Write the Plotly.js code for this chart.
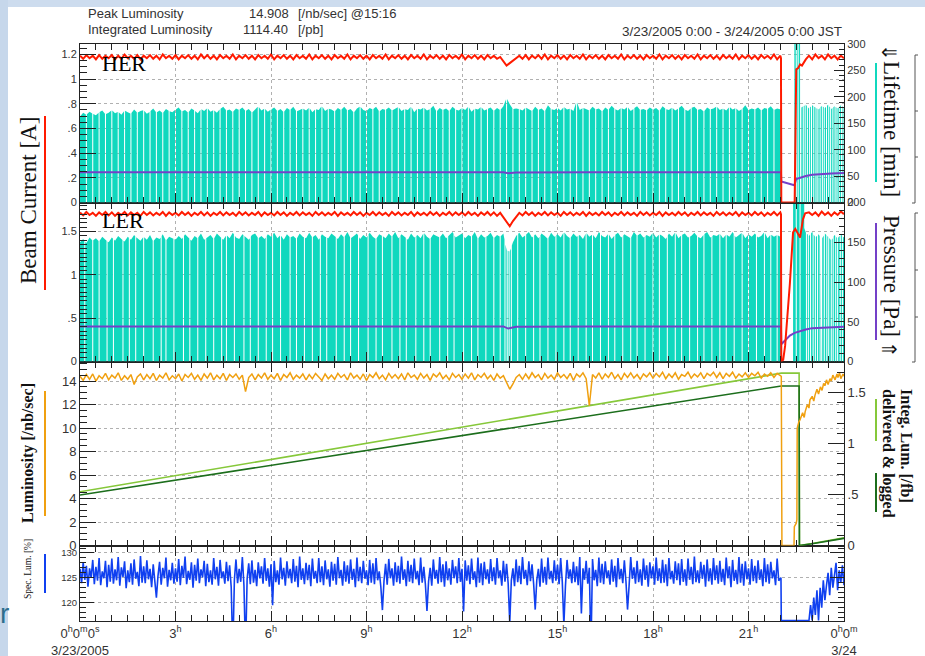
<!DOCTYPE html>
<html>
<head>
<meta charset="utf-8">
<script src="https://cdn.plot.ly/plotly-3.0.1.min.js"></script>
<style>
  html, body { margin: 0; padding: 0; background: #fff; }
  #chart { width: 925px; height: 656px; }
</style>
</head>
<body>
<div id="chart"></div>
<script>
// ---------------------------------------------------------------
// KEKB daily summary, 3/23/2005 (hours 0..24, JST)
// Regular series are sampled every 0.1 h (specific luminosity every
// 0.05 h) up to 22.0 h; the abort / refill period after 22 h is
// given point by point.
// ---------------------------------------------------------------

// HER beam current [A]
const herCurrent = [
  1.19,1.165,1.195,1.17,1.19,1.16,1.195,1.165,1.19,1.17,1.195,1.16,1.19,1.165,1.2,1.17,1.19,1.165,1.195,1.16,
  1.19,1.17,1.195,1.165,1.19,1.16,1.2,1.17,1.19,1.165,1.195,1.16,1.19,1.17,1.195,1.165,1.19,1.16,1.2,1.17,
  1.195,1.165,1.19,1.16,1.195,1.17,1.19,1.165,1.2,1.16,1.19,1.17,1.195,1.165,1.19,1.16,1.195,1.17,1.19,1.165,
  1.2,1.16,1.19,1.17,1.195,1.165,1.19,1.16,1.195,1.17,1.19,1.165,1.2,1.16,1.19,1.17,1.195,1.165,1.19,1.16,
  1.195,1.17,1.19,1.165,1.2,1.16,1.19,1.17,1.195,1.165,1.19,1.16,1.195,1.17,1.19,1.165,1.2,1.16,1.19,1.17,
  1.195,1.165,1.19,1.16,1.195,1.17,1.19,1.165,1.2,1.16,1.19,1.17,1.195,1.165,1.19,1.16,1.195,1.17,1.19,1.165,
  1.2,1.16,1.19,1.17,1.195,1.165,1.19,1.16,1.195,1.17,1.19,1.165,1.18,1.14,1.11,1.13,1.15,1.17,1.19,1.165,
  1.195,1.16,1.19,1.17,1.195,1.165,1.2,1.16,1.19,1.17,1.195,1.165,1.19,1.16,1.195,1.17,1.19,1.165,1.2,1.16,
  1.19,1.17,1.195,1.165,1.19,1.16,1.195,1.17,1.19,1.165,1.2,1.16,1.19,1.17,1.195,1.165,1.19,1.16,1.195,1.17,
  1.19,1.165,1.2,1.16,1.19,1.17,1.195,1.165,1.19,1.16,1.195,1.17,1.19,1.165,1.2,1.16,1.19,1.17,1.195,1.165,
  1.19,1.16,1.195,1.17,1.19,1.165,1.2,1.16,1.19,1.17,1.195,1.165,1.19,1.16,1.195,1.17,1.19,1.165,1.2,1.16,
  1.19
];
const herCurrentTailT = [22.02,22.03,22.45,22.5,22.56,22.62,22.68,22.74,22.8,22.9,23.0,23.1,23.2,23.3,23.4,23.5,23.6,23.7,23.8,23.9,24.0];
const herCurrentTailV = [1.17,0,0,1.08,1.09,1.12,1.11,1.14,1.16,1.19,1.16,1.2,1.17,1.19,1.16,1.2,1.17,1.19,1.16,1.19,1.17];

// LER beam current [A]
const lerCurrent = [
  1.72,1.685,1.725,1.69,1.715,1.68,1.72,1.69,1.725,1.685,1.72,1.68,1.715,1.69,1.725,1.685,1.72,1.69,1.715,1.68,
  1.725,1.69,1.72,1.685,1.715,1.69,1.725,1.68,1.72,1.69,1.715,1.685,1.725,1.69,1.72,1.68,1.715,1.69,1.725,1.685,
  1.72,1.68,1.715,1.69,1.725,1.685,1.72,1.69,1.715,1.68,1.725,1.69,1.72,1.685,1.715,1.69,1.725,1.68,1.72,1.69,
  1.715,1.685,1.725,1.69,1.72,1.68,1.715,1.69,1.725,1.685,1.72,1.69,1.715,1.68,1.725,1.69,1.72,1.685,1.715,1.69,
  1.725,1.68,1.72,1.69,1.715,1.685,1.725,1.69,1.72,1.68,1.715,1.69,1.725,1.685,1.72,1.69,1.715,1.68,1.725,1.69,
  1.72,1.685,1.715,1.69,1.725,1.68,1.72,1.69,1.715,1.685,1.725,1.69,1.72,1.68,1.715,1.69,1.725,1.685,1.72,1.69,
  1.72,1.685,1.725,1.69,1.715,1.68,1.72,1.69,1.725,1.685,1.72,1.68,1.715,1.66,1.6,1.56,1.62,1.67,1.715,1.685,
  1.725,1.69,1.72,1.68,1.715,1.69,1.725,1.685,1.72,1.69,1.715,1.68,1.725,1.69,1.72,1.685,1.715,1.69,1.725,1.68,
  1.72,1.69,1.715,1.685,1.725,1.69,1.72,1.68,1.715,1.69,1.725,1.685,1.72,1.69,1.715,1.68,1.725,1.69,1.72,1.685,
  1.715,1.69,1.725,1.68,1.72,1.69,1.715,1.685,1.725,1.69,1.72,1.68,1.715,1.69,1.725,1.685,1.72,1.69,1.715,1.68,
  1.725,1.69,1.72,1.685,1.715,1.69,1.725,1.68,1.72,1.69,1.715,1.685,1.725,1.69,1.72,1.68,1.715,1.69,1.725,1.685,
  1.72
];
const lerCurrentTailT = [22.02,22.03,22.09,22.15,22.3,22.4,22.47,22.55,22.62,22.71,22.78,22.9,23.0,23.1,23.2,23.3,23.4,23.5,23.6,23.7,23.8,23.9,24.0];
const lerCurrentTailV = [1.7,0,0.02,0.18,0.9,1.49,1.53,1.48,1.43,1.64,1.71,1.72,1.69,1.72,1.68,1.73,1.69,1.72,1.68,1.72,1.69,1.73,1.7];

// Vacuum pressure traces (drawn on the current scale)
const herPressT = [0,3,6,9,12,13.3,13.45,13.7,16,19,22.02,22.03,22.2,22.44,22.5,22.6,22.8,23.0,23.3,23.6,24.0];
const herPressV = [0.245,0.246,0.245,0.246,0.245,0.245,0.238,0.244,0.245,0.246,0.245,0.17,0.16,0.14,0.19,0.2,0.215,0.225,0.232,0.236,0.24];
const lerPressT = [0,3,6,9,12,13.3,13.45,13.7,16,19,22.02,22.03,22.15,22.3,22.45,22.6,22.8,23.0,23.4,23.8,24.0];
const lerPressV = [0.405,0.405,0.404,0.405,0.405,0.405,0.38,0.4,0.404,0.405,0.405,0.2,0.24,0.3,0.33,0.35,0.37,0.385,0.395,0.4,0.402];

// Beam lifetime [min], peak readings every 0.1 h (0..22 h).
// HER is topped up at every second sample; LER at the listed times.
const herLifeTop = [
  163,170,166,172,168,165,171,174,167,170,175,169,172,166,174,171,168,176,170,173,
  175,168,172,178,170,174,169,177,173,171,176,180,172,175,170,178,174,169,177,173,
  179,172,175,170,177,181,174,176,171,178,175,180,173,177,170,176,182,174,178,172,
  176,180,173,177,171,179,175,181,172,176,178,174,180,171,177,175,183,173,178,176,
  172,179,175,181,174,177,170,178,182,175,173,179,176,181,172,177,175,180,174,178,
  181,173,177,175,182,171,178,176,180,174,177,183,172,179,175,178,173,181,176,174,
  179,175,182,172,178,176,181,174,177,180,173,179,175,182,198,186,177,178,177,174,
  180,176,173,181,175,178,172,184,177,175,179,174,181,176,178,173,192,175,179,177,
  174,181,176,178,172,180,175,183,177,174,179,176,181,173,178,182,175,177,174,180,
  176,179,173,182,177,175,180,174,178,183,176,173,179,181,175,177,172,180,176,178,
  182,175,178,174,181,176,179,173,177,184,175,178,176,180,174,179,177,182,175,178,
  176
];
const herLifeTailT = [22.02,22.021,22.44,22.441,22.62,22.621,22.66,22.661,22.8,22.9,23.0,23.1,23.2,23.3,23.4,23.5,23.6,23.7,23.8,23.9,24.0];
const herLifeTailV = [176,0,0,330,330,0,0,180,185,178,184,180,176,183,179,185,177,182,178,184,180];
const herLifeTailGaps = [22.5,22.56,22.72,22.78,22.85,22.92,22.98,23.05,23.12,23.18,23.25,23.32,23.38,23.45,23.52,23.58,23.65,23.72,23.78,23.85,23.92,23.97];

const lerLifeTop = [
  150,154,149,156,152,155,151,157,153,150,156,152,158,154,151,157,153,159,155,152,
  157,153,159,151,156,154,160,152,157,155,153,158,154,160,156,152,158,155,161,153,
  156,159,154,161,157,153,159,155,162,156,154,160,157,153,159,161,155,158,154,160,
  157,162,155,159,153,160,156,158,154,161,157,155,162,156,159,153,160,157,155,161,
  158,154,160,156,163,155,158,161,154,159,156,162,157,154,160,158,155,161,157,163,
  155,160,157,153,161,156,159,155,162,157,154,160,158,156,161,155,159,163,156,158,
  161,155,159,157,163,154,160,156,158,162,155,159,157,161,140,138,150,158,162,156,
  159,163,156,160,155,161,158,154,162,157,160,156,163,158,155,161,157,159,154,162,
  157,160,155,163,158,156,161,154,159,162,156,160,157,155,163,158,161,156,159,157,
  162,156,160,158,154,161,157,163,155,159,161,156,158,162,157,155,160,163,156,159,
  158,161,155,160,157,163,156,159,162,155,160,157,161,156,158,163,155,160,157,159,
  157
];
const lerLifeGaps = [
  0.15,0.4,0.6,0.85,1.05,1.35,1.55,1.75,2.0,2.3,2.55,2.7,2.95,3.25,3.45,3.7,3.95,4.2,4.45,4.6,
  4.85,5.15,5.35,5.6,5.85,6.05,6.3,6.6,6.8,7.05,7.3,7.55,7.75,8.05,8.3,8.5,8.75,9.05,9.3,9.5,
  9.8,10.05,10.25,10.55,10.8,11.0,11.3,11.55,11.75,12.05,12.3,12.5,12.75,13.0,13.2,13.35,13.42,13.48,13.55,13.75,
  14.0,14.25,14.45,14.7,14.95,15.2,15.4,15.65,15.9,16.1,16.35,16.6,16.8,17.05,17.3,17.5,17.75,18.0,18.2,18.45,
  18.7,18.9,19.15,19.4,19.6,19.85,20.1,20.3,20.55,20.8,21.0,21.25,21.5,21.7,21.9
];
const lerLifeTailT = [22.02,22.021,22.4,22.401,22.75,22.751,22.8,22.9,23.0,23.1,23.2,23.3,23.4,23.5,23.6,23.7,23.8,23.9,24.0];
const lerLifeTailV = [157,0,0,215,215,168,162,158,163,156,160,154,161,157,152,159,155,160,156];
const lerLifeTailGaps = [22.5,22.62,22.82,22.88,22.95,23.03,23.1,23.17,23.25,23.3,23.38,23.46,23.52,23.6,23.66,23.74,23.8,23.88,23.95];

// Luminosity [/nb/sec]
const luminosity = [
  14.4,14.05,14.55,14.15,14.6,14.0,14.45,14.2,14.65,14.1,14.5,14.25,14.7,14.05,14.45,14.15,14.55,13.7,14.35,14.6,
  14.1,14.55,14.2,14.65,14.05,14.5,14.25,14.7,14.1,14.45,14.2,14.6,14.0,14.55,14.3,14.65,14.15,14.5,14.05,14.6,
  14.25,14.7,14.1,14.5,14.2,14.65,14.05,14.55,14.3,14.6,14.15,14.5,13.1,14.3,14.6,14.1,14.55,14.25,14.7,14.15,
  14.5,14.2,14.65,14.05,14.55,14.3,14.7,14.15,14.5,14.25,14.6,14.1,14.55,14.2,14.65,14.35,14.05,14.6,14.2,14.5,
  14.15,14.65,14.3,14.55,14.1,14.7,14.25,14.5,14.15,14.6,14.05,14.55,14.3,14.7,14.2,14.5,14.1,14.65,14.25,14.55,
  14.2,14.6,14.1,14.7,14.3,14.5,14.15,14.65,14.25,14.55,14.05,14.6,14.35,14.7,14.2,14.5,14.1,14.65,14.3,14.55,
  14.15,14.6,14.25,14.7,14.1,14.55,14.3,14.65,14.2,14.5,14.05,14.6,14.25,14.45,13.8,13.3,13.75,14.3,14.55,14.15,
  14.6,14.2,14.7,14.3,14.55,14.1,14.65,14.25,14.5,14.15,14.7,14.3,14.55,14.2,14.65,14.05,14.6,14.35,14.7,14.2,
  11.9,14.55,14.25,14.7,14.15,14.6,14.3,14.75,14.2,14.55,14.1,14.65,14.3,14.7,14.25,14.55,14.15,14.6,14.35,14.7,
  14.25,14.65,14.35,14.75,14.2,14.6,14.3,14.7,14.15,14.55,14.4,14.75,14.25,14.6,14.35,14.7,14.2,14.65,14.45,14.75,
  14.3,14.7,14.2,14.65,14.4,14.75,14.25,14.6,14.35,14.7,14.3,14.65,14.45,14.75,14.25,14.6,14.4,14.7,14.3,14.65,
  14.45
];
const lumiTailT = [22.03,22.05,22.43,22.44,22.5,22.52,22.53,22.58,22.62,22.7,22.75,22.78,22.85,22.9,22.93,23.0,23.05,23.09,23.15,23.2,23.26,23.31,23.36,23.4,23.45,23.5,23.56,23.6,23.65,23.72,23.78,23.81,23.86,23.9,23.97,24.0];
const lumiTailV = [14.4,0,0,1.6,1.9,2.2,10.0,10.5,10.7,11.3,10.9,11.4,12.0,11.7,12.4,12.7,12.3,12.8,13.3,12.9,13.5,13.2,13.8,13.6,14.1,13.7,14.2,14.0,14.5,14.1,14.6,14.3,14.7,14.2,14.6,14.4];

// Integrated luminosity [/fb], delivered and logged
const integT = [0,2,4,6,8,10,12,14,16,18,20,22.03,22.59,22.6,23.0,23.5,24.0];
const integDelivered = [0.527,0.633,0.738,0.844,0.95,1.055,1.161,1.267,1.372,1.478,1.584,1.69,1.69,0,0.02,0.046,0.075];
const integLogged = [0.495,0.592,0.689,0.786,0.883,0.98,1.077,1.174,1.271,1.368,1.465,1.564,1.564,0,0.018,0.042,0.07];

// Specific luminosity [%], one row per hour (0.05 h samples)
const specLumi = [
  126.8,123.9,128.1,124.6,127.4,123.2,126.9,125.0,128.6,123.7,127.2,124.4,129.0,123.5,126.3,124.9,128.4,123.1,127.6,124.2,
  128.9,123.8,126.7,124.5,129.2,123.4,127.1,125.2,128.3,122.9,126.5,124.1,127.9,123.6,128.7,124.8,126.2,123.3,129.4,124.0,
  127.3,123.9,128.5,124.7,126.8,123.1,127.7,124.3,121.0,125.4,128.2,123.6,127.0,124.9,129.1,123.2,126.6,124.5,128.0,123.8,
  126.9,124.2,128.8,123.5,127.4,125.0,129.3,123.7,126.4,124.6,128.1,123.0,127.6,124.4,128.9,123.9,126.7,125.1,128.4,123.3,
  127.8,124.1,126.5,123.6,129.0,124.7,127.2,123.4,128.6,124.9,126.3,123.8,128.2,124.3,127.5,123.1,110.0,124.6,128.7,123.9,
  126.8,124.2,129.2,123.5,110.0,124.8,127.9,123.7,128.5,124.0,126.6,123.3,128.1,124.9,127.3,123.8,129.0,124.4,126.9,123.2,
  127.7,119.5,128.4,124.1,126.5,123.6,129.1,124.7,127.0,123.4,128.3,124.9,126.8,123.9,128.8,124.2,127.4,123.1,129.3,124.6,
  126.9,123.7,128.0,124.5,127.6,123.3,128.9,124.8,126.4,123.9,129.0,124.1,127.3,123.5,128.5,124.7,126.7,123.2,128.2,124.4,
  127.8,123.6,129.2,124.9,126.6,123.4,128.3,124.2,127.5,123.8,128.7,124.6,126.8,123.1,129.1,124.3,127.2,123.9,128.4,124.8,
  126.5,123.5,128.6,124.0,127.9,123.7,129.0,124.5,126.3,123.2,118.5,124.4,127.8,123.6,128.8,124.9,126.9,123.4,128.1,124.1,
  127.4,123.8,129.3,124.6,126.7,123.3,128.4,124.2,127.6,123.9,128.9,124.7,126.4,123.5,129.1,124.0,127.2,123.7,118.3,124.3,
  127.0,123.4,128.7,124.8,126.6,123.8,129.2,124.1,127.7,123.2,128.3,124.5,126.9,123.6,128.6,124.9,127.3,123.9,129.0,124.2,
  126.8,118.2,128.5,124.4,127.5,123.7,128.9,124.6,126.3,123.1,129.1,124.0,127.9,123.5,128.2,124.7,126.7,123.8,128.8,124.3,
  127.1,123.6,129.0,124.9,126.5,123.4,128.4,124.2,127.8,123.9,116.0,124.5,126.9,123.3,128.7,124.1,127.4,123.7,129.2,124.8,
  126.6,123.5,128.3,124.3,127.7,123.8,118.6,124.6,126.8,123.2,128.9,124.0,127.2,123.6,129.1,124.7,126.4,123.9,128.5,124.4,
  127.6,123.7,129.0,124.2,115.5,123.4,128.6,124.8,126.7,123.9,128.2,124.1,127.3,123.5,129.2,117.8,126.9,124.6,128.4,123.8,
  127.0,110.0,128.8,124.5,126.6,123.3,129.1,124.0,127.8,123.7,128.3,124.9,126.5,123.6,128.7,124.2,127.4,123.1,129.0,124.7,
  126.8,123.9,128.5,124.3,118.6,123.5,129.2,124.8,127.1,123.8,128.4,124.1,126.7,123.4,128.9,124.6,127.5,123.2,128.1,124.9,
  127.3,123.6,129.1,124.4,126.9,123.9,128.6,124.0,127.7,123.3,129.0,124.7,126.4,123.8,128.3,124.5,127.9,123.5,128.8,124.2,
  126.7,123.4,128.9,124.6,127.2,123.7,129.3,124.1,126.5,123.9,128.2,124.8,127.6,123.2,128.7,124.3,126.9,123.6,129.0,124.5,
  127.5,123.8,128.4,124.2,126.8,123.5,129.1,124.9,127.3,123.1,128.6,124.4,126.6,123.7,129.2,124.0,127.8,123.4,128.3,124.7,
  126.9,123.6,128.8,124.3,127.4,123.9,128.5,124.6,126.7,123.3,129.0,124.1,127.7,123.8,128.2,124.9,126.5,123.5,128.9,124.4,
  125.0
];
const specTailT = [22.02,22.03,22.9,22.95,23.0,23.05,23.1,23.15,23.2,23.25,23.3,23.35,23.4,23.45,23.5,23.55,23.6,23.65,23.7,23.75,23.8,23.85,23.9,23.95,24.0];
const specTailV = [125.0,116.4,116.4,119.5,116.4,121.0,117.5,122.5,116.4,123.0,119.0,124.5,120.5,123.5,126.0,121.5,127.0,123.0,125.5,128.0,122.5,126.5,124.0,127.5,123.5];

// Bottom axis labels (hour ticks)
const hourLabels = {
  '0': '0<sup>h</sup>0<sup>m</sup>0<sup>s</sup><br>3/23/2005',
  '3': '3<sup>h</sup>', '6': '6<sup>h</sup>', '9': '9<sup>h</sup>', '12': '12<sup>h</sup>',
  '15': '15<sup>h</sup>', '18': '18<sup>h</sup>', '21': '21<sup>h</sup>',
  '24': '0<sup>h</sup>0<sup>m</sup><br>3/24'
};

// ---------------------------------------------------------------
// helpers
// ---------------------------------------------------------------
const STEP = 0.1, SPEC_STEP = 0.05;
const sampleTimes = (vals, step) => vals.map((_, i) => +(i * step).toFixed(3));
function joinSeries(vals, step, tailT, tailV) {
  return { x: sampleTimes(vals, step).concat(tailT), y: vals.concat(tailV) };
}

// lifetime outline: peak readings, dropping to zero at each injection
function lifetimeOutline(envT, envV, gaps, half) {
  const valAt = t => {
    for (let k = 0; k < envT.length - 1; k++) {
      if (t >= envT[k] && t <= envT[k + 1]) {
        const f = (t - envT[k]) / (envT[k + 1] - envT[k] || 1);
        return envV[k] + f * (envV[k + 1] - envV[k]);
      }
    }
    return envV[envV.length - 1];
  };
  const gs = gaps.slice().sort((a, b) => a - b);
  const inGap = t => gs.some(g => Math.abs(t - g) <= half);
  const x = [], y = [];
  let gi = 0;
  const emitGap = g => {
    const a = g - half, b = g + half;
    x.push(a, a, b, b);
    y.push(valAt(a), 0, 0, valAt(b));
  };
  for (let k = 0; k < envT.length; k++) {
    const t = envT[k];
    while (gi < gs.length && gs[gi] - half < t) emitGap(gs[gi++]);
    if (!inGap(t)) { x.push(t); y.push(envV[k]); }
  }
  while (gi < gs.length) emitGap(gs[gi++]);
  return { x, y };
}

// pixel -> paper helpers for decorations (plot area 80..844 x 44..621)
const L = 80, R = 844, T = 44, B = 621;
const px = v => (v - L) / (R - L);
const py = v => (B - v) / (B - T);

// ---------------------------------------------------------------
// traces
// ---------------------------------------------------------------
const C = {
  red: '#ff1a00', cyan: '#10d8be', purple: '#7440c8', orange: '#f0a010',
  lgreen: '#86c83a', dgreen: '#1c6e1c', blue: '#1040f0'
};

const herT = sampleTimes(herLifeTop, STEP);
const herInjections = herT.filter((t, i) => i % 2 === 0 && t > 0 && t < 22).concat(herLifeTailGaps);
const herLife = lifetimeOutline(herT.concat(herLifeTailT), herLifeTop.concat(herLifeTailV), herInjections, 0.016);

const lerT = sampleTimes(lerLifeTop, STEP);
const lerLife = lifetimeOutline(lerT.concat(lerLifeTailT), lerLifeTop.concat(lerLifeTailV),
  lerLifeGaps.concat(lerLifeTailGaps), 0.016);

const herCur = joinSeries(herCurrent, STEP, herCurrentTailT, herCurrentTailV);
const lerCur = joinSeries(lerCurrent, STEP, lerCurrentTailT, lerCurrentTailV);
const lumi = joinSeries(luminosity, STEP, lumiTailT, lumiTailV);
const spec = joinSeries(specLumi, SPEC_STEP, specTailT, specTailV);

const line = (x, y, xa, ya, color, width) => ({
  type: 'scatter', mode: 'lines', x, y, xaxis: xa, yaxis: ya,
  line: { color, width, shape: 'linear' }, hoverinfo: 'skip'
});
const area = (x, y, xa, ya, color) => Object.assign(line(x, y, xa, ya, color, 0),
  { fill: 'tozeroy', fillcolor: color });

const data = [
  // HER panel
  area(herLife.x, herLife.y, 'x4', 'y6', C.cyan),
  line(herPressT, herPressV, 'x4', 'y7', C.purple, 2),
  line(herCur.x, herCur.y, 'x4', 'y7', C.red, 2),
  // LER panel
  area(lerLife.x, lerLife.y, 'x3', 'y4', C.cyan),
  line(lerPressT, lerPressV, 'x3', 'y5', C.purple, 2),
  line(lerCur.x, lerCur.y, 'x3', 'y5', C.red, 2),
  // luminosity panel
  line(integT, integDelivered, 'x2', 'y2', C.lgreen, 1.6),
  line(integT, integLogged, 'x2', 'y2', C.dgreen, 1.6),
  line(lumi.x, lumi.y, 'x2', 'y3', C.orange, 1.5),
  // specific luminosity panel
  line(spec.x, spec.y, 'x', 'y', C.blue, 1.6)
];

// ---------------------------------------------------------------
// axes
// ---------------------------------------------------------------
const INK = '#222';
const tickFont = s => ({ family: 'Liberation Sans, Arial, sans-serif', size: s, color: '#333' });
const dotted = { showgrid: true, gridcolor: '#b0b0b0', griddash: 'dot', gridwidth: 1 };

function xAxis(anchor, labels) {
  return Object.assign({
    anchor, range: [0, 24], tickmode: 'linear', tick0: 0, dtick: 3,
    showline: true, linecolor: INK, linewidth: 1, mirror: 'ticks', zeroline: false,
    ticks: 'inside', ticklen: 10, tickcolor: INK, tickwidth: 1,
    minor: { tickmode: 'linear', tick0: 0, dtick: 0.5, ticks: 'inside', ticklen: 6, tickcolor: INK },
    showticklabels: labels, labelalias: hourLabels, tickfont: tickFont(13)
  }, dotted);
}
function yAxis(o) {
  return Object.assign({
    showline: true, linecolor: INK, linewidth: 1, zeroline: false,
    ticks: 'inside', tickcolor: INK, tickwidth: 1, tickmode: 'linear', tick0: 0,
    showgrid: false
  }, o);
}

const dom = { her: [0.7253, 1], ler: [0.4497, 0.7253], lum: [0.1308, 0.4497], spec: [0, 0.1308] };

const layout = {
  width: 925, height: 656,
  margin: { l: 80, r: 81, t: 44, b: 35 },
  paper_bgcolor: '#ffffff', plot_bgcolor: '#ffffff',
  showlegend: false,
  font: { family: 'Liberation Sans, Arial, sans-serif', color: '#333' },

  xaxis: xAxis('y', true),
  xaxis2: xAxis('y2', false),
  xaxis3: xAxis('y4', false),
  xaxis4: xAxis('y6', false),

  // specific luminosity
  yaxis: yAxis(Object.assign({
    domain: dom.spec, anchor: 'x', side: 'left', range: [116.3, 131.5], dtick: 5,
    ticklen: 14, mirror: 'ticks', tickfont: tickFont(9.5),
    minor: { tickmode: 'linear', tick0: 0, dtick: 1, ticks: 'inside', ticklen: 6, tickcolor: INK }
  }, dotted)),

  // integrated luminosity (right) + luminosity (left)
  yaxis2: yAxis({
    domain: dom.lum, anchor: 'x2', side: 'right', range: [0, 1.804], dtick: 0.5,
    labelalias: { '0.5': '.5' }, ticklen: 16, tickfont: tickFont(13),
    minor: { tickmode: 'linear', tick0: 0, dtick: 0.1, ticks: 'inside', ticklen: 7, tickcolor: INK }
  }),
  yaxis3: yAxis(Object.assign({
    overlaying: 'y2', anchor: 'x2', side: 'left', range: [0, 15.66], dtick: 2,
    ticklen: 16, tickfont: tickFont(13),
    minor: { tickmode: 'linear', tick0: 0, dtick: 0.5, ticks: 'inside', ticklen: 7, tickcolor: INK }
  }, dotted)),

  // LER lifetime (right) + current (left)
  yaxis4: yAxis({
    domain: dom.ler, anchor: 'x3', side: 'right', range: [0, 200], dtick: 50,
    ticklen: 10, tickfont: tickFont(11),
    minor: { tickmode: 'linear', tick0: 0, dtick: 10, ticks: 'inside', ticklen: 5, tickcolor: INK }
  }),
  yaxis5: yAxis(Object.assign({
    overlaying: 'y4', anchor: 'x3', side: 'left', range: [0, 1.834], dtick: 0.5,
    labelalias: { '0.5': '.5' }, ticklen: 16, tickfont: tickFont(11),
    minor: { tickmode: 'linear', tick0: 0, dtick: 0.05, ticks: 'inside', ticklen: 7, tickcolor: INK }
  }, dotted)),

  // HER lifetime (right) + current (left)
  yaxis6: yAxis({
    domain: dom.her, anchor: 'x4', side: 'right', range: [0, 300], dtick: 50,
    ticklen: 10, tickfont: tickFont(11),
    minor: { tickmode: 'linear', tick0: 0, dtick: 10, ticks: 'inside', ticklen: 5, tickcolor: INK }
  }),
  yaxis7: yAxis(Object.assign({
    overlaying: 'y6', anchor: 'x4', side: 'left', range: [0, 1.285], dtick: 0.2,
    labelalias: { '0.2': '.2', '0.4': '.4', '0.6': '.6', '0.8': '.8' },
    ticklen: 16, tickfont: tickFont(11),
    minor: { tickmode: 'linear', tick0: 0, dtick: 0.05, ticks: 'inside', ticklen: 7, tickcolor: INK }
  }, dotted)),

  shapes: [],
  annotations: []
};

// ---------------------------------------------------------------
// decorations: slide edge, colour keys, brackets
// ---------------------------------------------------------------
const rect = (x0, y0, x1, y1, fill) => ({
  type: 'rect', xref: 'paper', yref: 'paper', layer: 'below',
  x0: px(x0), x1: px(x1), y0: py(y1), y1: py(y0), fillcolor: fill, line: { width: 0 }
});
const seg = (x0, y0, x1, y1, color, w) => ({
  type: 'line', xref: 'paper', yref: 'paper',
  x0: px(x0), x1: px(x1), y0: py(y0), y1: py(y1), line: { color, width: w }
});

layout.shapes.push(
  rect(0, 0, 925, 7, '#cddcee'),
  rect(0, 0, 8, 656, '#c6d7eb'),
  // colour keys next to the axis titles
  seg(45, 116, 45, 290, C.red, 2),
  seg(45, 391, 45, 516, C.orange, 2),
  seg(45, 554, 45, 593, C.blue, 2),
  seg(876, 63, 876, 182, C.cyan, 2),
  seg(876, 223, 876, 340, C.purple, 2),
  seg(876, 399, 876, 441, C.lgreen, 2),
  seg(876, 473, 876, 512, C.dgreen, 2),
  // brackets at the right edge
  seg(915, 55, 915, 203, '#555', 1),
  seg(915, 55, 918, 55, '#555', 1),
  seg(912, 203, 915, 203, '#555', 1),
  seg(915, 111, 918, 111, '#555', 1),
  seg(915, 157, 918, 157, '#555', 1),
  seg(915, 213, 915, 362, '#555', 1),
  seg(915, 213, 918, 213, '#555', 1),
  seg(912, 362, 915, 362, '#555', 1),
  seg(915, 270, 918, 270, '#555', 1),
  seg(915, 317, 918, 317, '#555', 1)
);

const note = (text, x, y, o) => Object.assign({
  text, x: px(x), y: py(y), xref: 'paper', yref: 'paper', showarrow: false,
  xanchor: 'center', yanchor: 'middle'
}, o);
const sans = (s, c) => ({ family: 'Liberation Sans, Arial, sans-serif', size: s, color: c || '#333' });
const serif = (s, c) => ({ family: 'Liberation Serif, Times New Roman, serif', size: s, color: c || '#111' });

layout.annotations.push(
  // header
  note('Peak Luminosity', 86, 13, { xanchor: 'left', font: sans(13) }),
  note('14.908', 291, 13, { xanchor: 'right', font: sans(13) }),
  note('[/nb/sec] @15:16', 296, 13, { xanchor: 'left', font: sans(13) }),
  note('Integrated Luminosity', 86, 30, { xanchor: 'left', font: sans(13) }),
  note('1114.40', 290, 30, { xanchor: 'right', font: sans(13) }),
  note('[/pb]', 296, 30, { xanchor: 'left', font: sans(13) }),
  note('3/23/2005 0:00 - 3/24/2005 0:00 JST', 844, 32, { xanchor: 'right', font: sans(13.5) }),
  // panel names
  note('HER', 100, 63, { xanchor: 'left', font: serif(22, '#000') }),
  note('LER', 100, 221, { xanchor: 'left', font: serif(22, '#000') }),
  // left axis titles
  note('Beam Current [A]', 28, 201, { textangle: -90, font: serif(23) }),
  note('<b>Luminosity [/nb/sec]</b>', 28, 453, { textangle: -90, font: serif(16) }),
  note('Spec. Lum. [%]', 28, 569, { textangle: -90, font: serif(9.5) }),
  // right axis titles
  note('\u21D3', 889, 52, { textangle: 90, font: serif(20) }),
  note('Lifetime [min]', 892, 129, { textangle: 90, font: serif(23) }),
  note('Pressure [Pa]', 892, 276, { textangle: 90, font: serif(23) }),
  note('\u21D1', 889, 349, { textangle: 90, font: serif(20) }),
  note('<b>Integ. Lum. [/fb]</b>', 906, 446, { textangle: 90, font: serif(16) }),
  note('<b>delivered &amp; logged</b>', 888, 454, { textangle: 90, font: serif(16) }),
  // slide text peeking in at the lower left
  note('r', 4, 613, { font: sans(28, '#2e6e8e') })
);

Plotly.newPlot('chart', data, layout, { staticPlot: true, displayModeBar: false });
</script>
</body>
</html>
